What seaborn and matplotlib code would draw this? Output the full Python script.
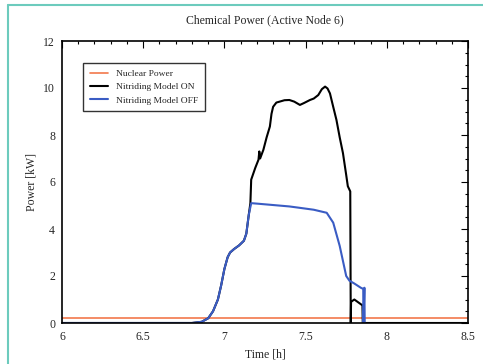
import matplotlib
matplotlib.use("Agg")
import matplotlib.pyplot as plt
from matplotlib.lines import Line2D
from matplotlib.ticker import MultipleLocator
import seaborn as sns
import pandas as pd

sns.set_style("white")
plt.rcParams['font.family'] = ['Liberation Serif', 'DejaVu Serif']

# Data
nuclear_t = [6.0, 8.5]
nuclear_v = [0.2, 0.2]

off_t = [6.0, 6.8, 6.86, 6.9, 6.93, 6.96, 6.98, 7.0, 7.02, 7.035, 7.06, 7.09, 7.12, 7.135,
         7.15, 7.165, 7.2, 7.3, 7.4, 7.465, 7.55, 7.63, 7.67, 7.71, 7.75, 7.77, 7.80, 7.84,
         7.855, 7.856, 7.862, 7.864]
off_v = [0, 0, 0.05, 0.2, 0.5, 1.0, 1.6, 2.3, 2.8, 3.0, 3.15, 3.3, 3.5, 3.8,
         4.6, 5.1, 5.08, 5.02, 4.96, 4.9, 4.82, 4.69, 4.27, 3.28, 2.0, 1.8, 1.68, 1.5,
         1.45, 0, 1.5, 0]

on_t = [6.0, 6.8, 6.86, 6.9, 6.93, 6.96, 6.98, 7.0, 7.02, 7.035, 7.06, 7.09, 7.12, 7.135,
        7.15, 7.16, 7.165, 7.19, 7.21, 7.215, 7.22, 7.24, 7.26, 7.28, 7.29, 7.30, 7.32,
        7.34, 7.37, 7.40, 7.43, 7.465, 7.49, 7.527, 7.55, 7.578, 7.60, 7.62, 7.635, 7.65,
        7.67, 7.69, 7.71, 7.73, 7.75, 7.76, 7.775, 7.778, 7.78, 7.80, 7.83, 7.85, 7.852, 8.5]
on_v = [0, 0, 0.05, 0.2, 0.5, 1.0, 1.6, 2.3, 2.8, 3.0, 3.15, 3.3, 3.5, 3.8,
        4.6, 5.1, 6.1, 6.6, 6.95, 7.3, 7.0, 7.37, 7.9, 8.36, 8.9, 9.2, 9.38,
        9.42, 9.48, 9.49, 9.42, 9.28, 9.36, 9.49, 9.55, 9.7, 9.95, 10.06, 9.98, 9.77,
        9.2, 8.64, 7.9, 7.23, 6.3, 5.82, 5.6, 0, 0.9, 1.0, 0.85, 0.75, 0, 0]

labels = ["Nuclear Power", "Nitriding Model ON", "Nitriding Model OFF"]
colors = ["#f2784b", "#000000", "#3a5cc4"]

fig = plt.figure(figsize=(4.83, 3.64), dpi=100)
ax = fig.add_axes([62/483, 41/364, 406/483, 282/364])

sns.lineplot(x=nuclear_t, y=nuclear_v, sort=False, estimator=None, ax=ax,
             color=colors[0], lw=1.2, label=labels[0])
sns.lineplot(x=on_t, y=on_v, sort=False, estimator=None, ax=ax,
             color=colors[1], lw=1.5, label=labels[1])
sns.lineplot(x=off_t, y=off_v, sort=False, estimator=None, ax=ax,
             color=colors[2], lw=1.5, label=labels[2])

ax.set_xlim(6, 8.5)
ax.set_ylim(0, 12)
ax.xaxis.set_major_locator(MultipleLocator(0.5))
ax.xaxis.set_minor_locator(MultipleLocator(0.1))
ax.yaxis.set_major_locator(MultipleLocator(2))
ax.yaxis.set_minor_locator(MultipleLocator(0.5))
ax.set_xticks([6, 6.5, 7, 7.5, 8, 8.5])
ax.set_xticklabels(["6", "6.5", "7", "7.5", "8", "8.5"])
ax.tick_params(which="both", direction="in", top=True, right=True, labelsize=8.5,
               color="black", width=0.8)
ax.tick_params(which="major", length=5)
ax.tick_params(axis="x", which="major", pad=6)
ax.tick_params(axis="y", which="major", pad=5)
ax.tick_params(which="minor", length=2.5)
for s in ax.spines.values():
    s.set_color("black")
    s.set_linewidth(1.2)

ax.set_title("Chemical Power (Active Node 6)", fontsize=8.5, pad=13)
ax.set_xlabel("Time [h]", fontsize=8.5, labelpad=4)
ax.set_ylabel("Power [kW]", fontsize=8.5, labelpad=4)

leg = ax.legend(loc="upper left", bbox_to_anchor=(0.04, 0.94), fontsize=6.8,
                frameon=True, fancybox=False, edgecolor="black", handlelength=2.0,
                borderpad=0.7, labelspacing=0.5)
leg.get_frame().set_linewidth(1.0)

# teal frame
teal = "#6ccbbd"
fig.add_artist(Line2D([8/483, 8/483], [0, 359/364], color=teal, lw=1.5,
                      transform=fig.transFigure))
fig.add_artist(Line2D([8/483, 1], [359/364, 359/364], color=teal, lw=1.5,
                      transform=fig.transFigure))

fig.savefig("out.png", dpi=100)
